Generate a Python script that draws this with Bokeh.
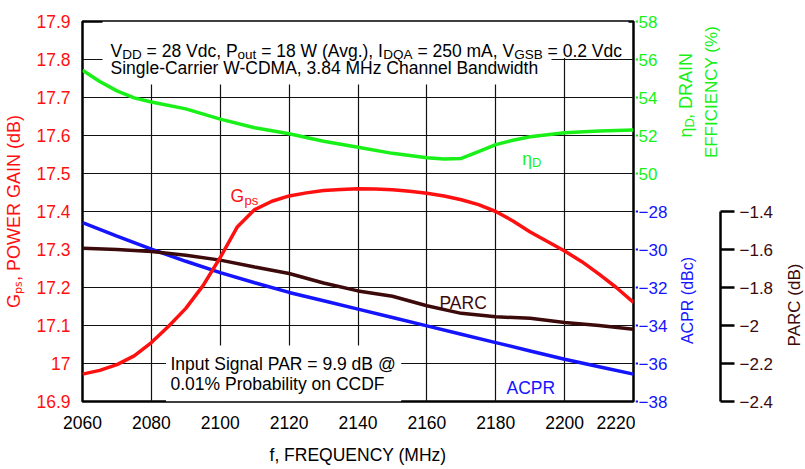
import math
from bokeh.plotting import figure
from bokeh.layouts import row
from bokeh.models import (Range1d, LinearAxis, FixedTicker, CustomJSTickFormatter,
                          BoxAnnotation, Label)
from bokeh.embed import file_html
from bokeh.resources import INLINE

# ---------------- data ----------------
freq_ticks = [2060, 2080, 2100, 2120, 2140, 2160, 2180, 2200, 2220]
gain_ticks = [16.9, 17.0, 17.1, 17.2, 17.3, 17.4, 17.5, 17.6, 17.7, 17.8, 17.9]
eff_ticks = [50, 52, 54, 56, 58]
acpr_ticks = [-38, -36, -34, -32, -30, -28]
parc_ticks = [-2.4, -2.2, -2.0, -1.8, -1.6, -1.4]

freq_gain = [2060, 2065, 2070, 2075, 2080, 2085, 2090, 2095, 2100, 2105, 2110,
             2115, 2120, 2125, 2130, 2135, 2140, 2145, 2150, 2155, 2160, 2165,
             2170, 2175, 2180, 2185, 2190, 2195, 2200, 2205, 2210, 2215, 2220]
gain = [16.972, 16.982, 16.997, 17.02, 17.055, 17.098, 17.145, 17.205, 17.279,
        17.36, 17.405, 17.427, 17.441, 17.449, 17.455, 17.458, 17.46, 17.459,
        17.457, 17.453, 17.448, 17.441, 17.431, 17.418, 17.40, 17.375, 17.346,
        17.321, 17.296, 17.268, 17.235, 17.2, 17.161]

freq_acpr = [2060, 2070, 2080, 2090, 2100, 2110, 2120, 2130, 2140, 2150, 2160,
             2170, 2180, 2190, 2200, 2210, 2220]
acpr = [-28.58, -29.3, -29.98, -30.62, -31.22, -31.75, -32.26, -32.7, -33.14,
        -33.58, -34.02, -34.46, -34.9, -35.34, -35.78, -36.17, -36.56]

freq_parc = [2060, 2070, 2080, 2090, 2100, 2110, 2120, 2130, 2140, 2150, 2160,
             2170, 2180, 2190, 2200, 2210, 2220]
parc = [-1.594, -1.6, -1.61, -1.63, -1.656, -1.692, -1.726, -1.776, -1.818,
        -1.846, -1.896, -1.936, -1.954, -1.962, -1.984, -2.0, -2.02]

freq_eff = [2060, 2065, 2070, 2075, 2080, 2090, 2100, 2110, 2120, 2130, 2140,
            2150, 2160, 2165, 2170, 2175, 2180, 2185, 2190, 2200, 2210, 2220]
eff = [55.44, 54.84, 54.35, 53.98, 53.76, 53.4, 52.86, 52.41, 52.09, 51.7, 51.38,
       51.06, 50.83, 50.76, 50.79, 51.15, 51.52, 51.75, 51.93, 52.14, 52.24, 52.29]

# scale spans (matching the gain axis span 16.9 .. 17.9)
gain_span = (16.9, 17.9)
eff_span = (38, 58)
acpr_span = (-38, -18)
parc_span = (-2.4, -0.4)

# ---------------- style ----------------
RED = "#ff1010"
BLUE = "#1414ff"
GREEN = "#18f018"
BROWN = "#3c0a0a"
FONT = "Liberation Sans, Arial"
MINUS = "\u2212"

TOTAL_W, H = 804, 469
FX0, FX1, FY0, FY1 = 82, 633, 21, 401   # page pixels of the main plotting frame
W1 = FX1 + 2                             # main figure: page 0 .. W1
P2X1 = 720                               # PARC axis line (right edge of side frame)
P3X0 = 777                               # start of the title strip
W2 = P3X0 - W1
W3 = TOTAL_W - P3X0


def px(x):
    return 2060 + (x - FX0) * 160.0 / (FX1 - FX0)


def py(y):
    return gain_span[1] - (y - FY0) * (gain_span[1] - gain_span[0]) / (FY1 - FY0)


def mapped(span, g):
    return span[0] + (g - gain_span[0]) / (gain_span[1] - gain_span[0]) * (span[1] - span[0])


# ================= main figure =================
p = figure(width=W1, height=H, x_range=Range1d(2060, 2220), y_range=Range1d(*gain_span),
           output_backend="svg", toolbar_location=None,
           min_border_left=FX0, min_border_right=W1 - FX1,
           min_border_top=FY0, min_border_bottom=H - FY1)
p.extra_y_ranges = {"eff": Range1d(*eff_span), "acpr": Range1d(*acpr_span),
                    "parc": Range1d(*parc_span)}
p.background_fill_color = "white"
p.border_fill_color = "white"
p.outline_line_color = "black"
p.outline_line_width = 2.5

p.xgrid.ticker = FixedTicker(ticks=freq_ticks)
p.ygrid.ticker = FixedTicker(ticks=gain_ticks)
for g in (p.xgrid[0], p.ygrid[0]):
    g.grid_line_color = "#111111"
    g.grid_line_width = 1.2

ya = p.left[0]
ya.ticker = FixedTicker(ticks=gain_ticks)
ya.formatter = CustomJSTickFormatter(code="return (Math.round(tick*10)/10).toString();")
ya.major_tick_out = 0
ya.major_tick_in = 0
ya.minor_tick_out = 0
ya.minor_tick_in = 0
ya.axis_line_color = None
ya.major_label_text_color = RED
ya.major_label_text_font = FONT
ya.major_label_text_font_size = "17.5px"
ya.major_label_standoff = 12
ya.axis_label = "G\u209a\u209b, POWER GAIN (dB)"
ya.axis_label_text_color = RED
ya.axis_label_text_font = FONT
ya.axis_label_text_font_size = "18px"
ya.axis_label_text_font_style = "normal"
ya.axis_label_standoff = 9

xa = p.below[0]
xa.ticker = FixedTicker(ticks=freq_ticks)
xa.major_tick_out = 0
xa.major_tick_in = 0
xa.minor_tick_out = 0
xa.minor_tick_in = 0
xa.axis_line_color = None
xa.major_label_text_color = "black"
xa.major_label_text_font = FONT
xa.major_label_text_font_size = "17.5px"
xa.major_label_standoff = 14
xa.axis_label = "f, FREQUENCY (MHz)"
xa.axis_label_text_font = FONT
xa.axis_label_text_font_size = "17.5px"
xa.axis_label_text_font_style = "normal"
xa.axis_label_text_color = "black"
xa.axis_label_standoff = 13

for l, r, t, b in [(102, 628, 21, 57.5), (102, 551, 57, 84), (165.5, 400.7, 345, 401)]:
    p.add_layout(BoxAnnotation(left=px(l), right=px(r), top=py(t), bottom=py(b),
                               fill_color="white", fill_alpha=1, line_color=None,
                               level="underlay"))

p.line(freq_eff, eff, y_range_name="eff", line_color=GREEN, line_width=3.5)
p.line(freq_acpr, acpr, y_range_name="acpr", line_color=BLUE, line_width=3.5)
p.line(freq_parc, parc, y_range_name="parc", line_color=BROWN, line_width=3.5)
p.line(freq_gain, gain, line_color=RED, line_width=3.5)


def label(fig, x, y, text, color="black", size=17.5, angle=0.0, align="left",
          baseline="alphabetic", y_range_name="default"):
    fig.add_layout(Label(x=x, y=y, text=text, text_color=color, text_font=FONT,
                         text_font_size=f"{size}px", angle=angle, text_align=align,
                         text_baseline=baseline, y_range_name=y_range_name))


def label1(x, y, text, color="black", size=17.5, **kw):
    label(p, px(x), py(y), text, color, size, **kw)


M, S = 17.5, 13.5
for txt, x, sub in [("V", 110, False), ("DD", 121.7, True), ("= 28 Vdc, P", 146.1, False),
                    ("out", 237.0, True), ("= 18 W (Avg.), I", 260.7, False),
                    ("DQA", 382.7, True), ("= 250 mA, V", 416.9, False),
                    ("GSB", 513.7, True), ("= 0.2 Vdc", 547.1, False)]:
    label1(x, 53.5 if sub else 50, txt, size=S if sub else M)
label1(110, 67.5, "Single-Carrier W-CDMA, 3.84 MHz Channel Bandwidth", size=M)

label1(170, 363, "Input Signal PAR = 9.9 dB @")
label1(170, 383.5, "0.01% Probability on CCDF")

label1(439, 302, "PARC", BROWN)
label1(506, 387, "ACPR", BLUE)
label1(230, 195, "G", RED)
label1(244, 200, "ps", RED, size=13)
label1(521.7, 158, "\u03b7", GREEN)
label1(531.5, 162, "D", GREEN, size=13)

# ================= side figures: full-height frames when frame alignment can be disabled =================
p2 = figure(width=W2, height=H, x_range=Range1d(W1, P2X1),
            output_backend="svg", toolbar_location=None,
            x_axis_location=None, y_axis_location=None,
            min_border_left=0, min_border_right=W2 - (P2X1 - W1))
p3 = figure(width=W3, height=H, x_range=Range1d(P3X0, TOTAL_W),
            output_backend="svg", toolbar_location=None,
            x_axis_location=None, y_axis_location=None,
            min_border_left=0, min_border_right=0)
try:
    for f in (p, p2, p3):
        f.frame_align = False
    full = True
except Exception:
    full = False

if full:
    top_px, bot_px = 0, H
else:
    top_px, bot_px = FY0, FY1
g_top, g_bot = py(top_px), py(bot_px)
side_y = Range1d(g_bot, g_top)
side_ranges = {"eff": Range1d(mapped(eff_span, g_bot), mapped(eff_span, g_top)),
               "acpr": Range1d(mapped(acpr_span, g_bot), mapped(acpr_span, g_top)),
               "parc": Range1d(mapped(parc_span, g_bot), mapped(parc_span, g_top))}
for f in (p2, p3):
    f.y_range = side_y
    f.min_border_top = top_px
    f.min_border_bottom = H - bot_px
    f.background_fill_color = "white"
    f.border_fill_color = "white"
    f.outline_line_color = None
    f.xgrid.visible = False
    f.ygrid.visible = False
p2.extra_y_ranges = side_ranges

p2.segment(x0=[W1] * len(eff_ticks), x1=[W1 + 2.5] * len(eff_ticks), y0=eff_ticks,
           y1=eff_ticks, y_range_name="eff", line_color=GREEN, line_width=2)
p2.segment(x0=[W1] * len(acpr_ticks), x1=[W1 + 2.5] * len(acpr_ticks), y0=acpr_ticks,
           y1=acpr_ticks, y_range_name="acpr", line_color=BLUE, line_width=2)

for v in eff_ticks:
    label(p2, W1 + 3, v, str(v), GREEN, 17, baseline="middle", y_range_name="eff")
for v in acpr_ticks:
    label(p2, W1 + 3, v, MINUS + str(abs(v)), BLUE, 17, baseline="middle",
          y_range_name="acpr")

# rotated titles (anchor = centre of the text height)
A = math.pi / 2
label(p2, 685, py(137), "\u03b7", GREEN, 18, angle=A, baseline="middle")
label(p2, 689, py(127), "D", GREEN, 13, angle=A, baseline="middle")
label(p2, 685, py(118.5), ", DRAIN", GREEN, 18, angle=A, baseline="middle")
label(p2, 711, py(91.5), "EFFICIENCY (%)", GREEN, 17, angle=A, align="center",
      baseline="middle")
label(p2, 687, py(300), "ACPR (dBc)", BLUE, 16, angle=A, align="center", baseline="middle")

parc_axis = LinearAxis(y_range_name="parc", bounds=(parc_ticks[0], parc_ticks[-1]),
                       ticker=FixedTicker(ticks=parc_ticks),
                       formatter=CustomJSTickFormatter(
                           code="const v = Math.round(tick*10)/10; return (v < 0 ? '\u2212' : '') + Math.abs(v).toString();"))
parc_axis.axis_line_color = "black"
parc_axis.axis_line_width = 2.5
parc_axis.major_tick_out = 14
parc_axis.major_tick_in = 0
parc_axis.major_tick_line_width = 2.5
parc_axis.minor_tick_out = 0
parc_axis.minor_tick_in = 0
parc_axis.major_label_standoff = 5
parc_axis.major_label_text_color = BROWN
parc_axis.major_label_text_font = FONT
parc_axis.major_label_text_font_size = "17px"
p2.add_layout(parc_axis, "right")

label(p3, 794, py(304.5), "PARC (dB)", BROWN, 17, angle=A, align="center", baseline="middle")

layout = row(p, p2, p3, spacing=0)
open("out.html", "w").write(file_html(layout, INLINE))
